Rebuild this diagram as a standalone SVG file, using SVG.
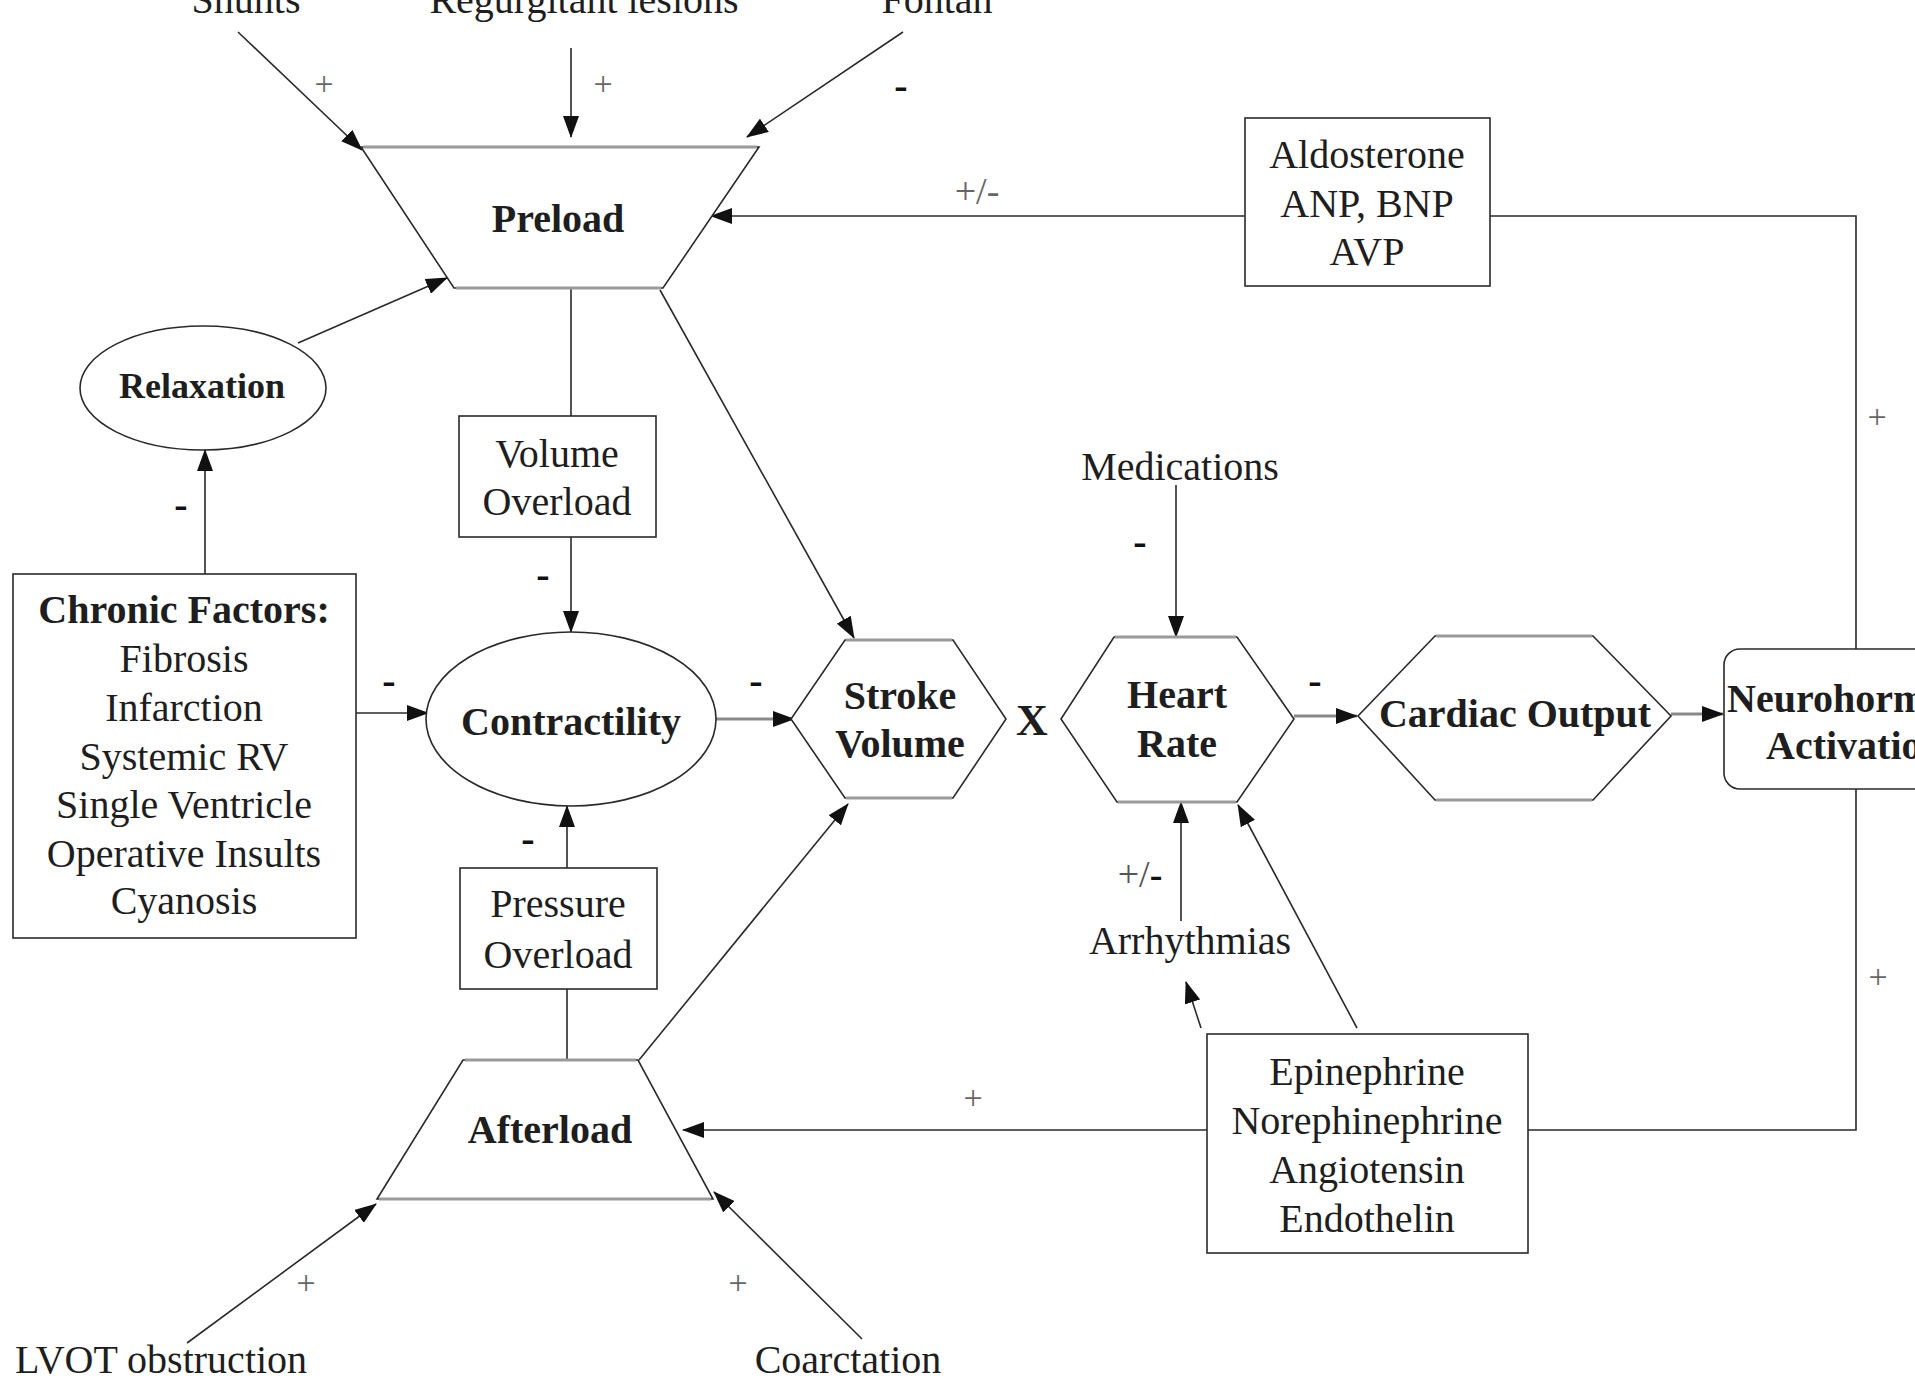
<svg xmlns="http://www.w3.org/2000/svg" width="1915" height="1382" viewBox="0 0 1915 1382">
<style>
  text { font-family: "Liberation Serif", "Times New Roman", serif; fill: #1e1e1e; }
  .t { font-size: 40px; text-anchor: middle; }
  .b { font-size: 40px; font-weight: bold; text-anchor: middle; }
  .shape { fill: #fff; stroke: #2a2a2a; stroke-width: 1.6; }
  .edge { stroke: #9a9a9a; stroke-width: 3; fill: none; }
  .ln { stroke: #2a2a2a; stroke-width: 1.6; fill: none; }
  .lg { stroke: #8a8a8a; stroke-width: 3; fill: none; }
  .arr { marker-end: url(#ah); }
  .plus { font-size: 34px; fill: #666; text-anchor: middle; }
  .minus { font-size: 40px; font-weight: bold; fill: #111; text-anchor: middle; }
</style>
<defs>
  <marker id="ah" markerUnits="userSpaceOnUse" markerWidth="22" markerHeight="16" refX="21" refY="8" orient="auto">
    <path d="M0,0 L22,8 L0,16 z" fill="#111"/>
  </marker>
</defs>
<rect width="1915" height="1382" fill="#fff"/>

<g id="connectors">
  <line class="ln arr" x1="238" y1="32" x2="362" y2="150"/>
  <line class="ln arr" x1="571" y1="48" x2="571" y2="137"/>
  <line class="ln arr" x1="903" y1="32" x2="747" y2="137"/>
  <line class="ln arr" x1="1245" y1="216" x2="711" y2="216"/>
  <polyline class="ln" points="1490,216 1856,216 1856,649"/>
  <line class="ln arr" x1="298" y1="343" x2="447" y2="278"/>
  <line class="ln arr" x1="205" y1="574" x2="205" y2="450"/>
  <line class="ln" x1="571" y1="288" x2="571" y2="416"/>
  <line class="ln arr" x1="571" y1="537" x2="571" y2="632"/>
  <line class="ln arr" x1="660" y1="290" x2="854" y2="638"/>
  <line class="ln arr" x1="356" y1="713" x2="428" y2="713"/>
  <line class="lg arr" x1="716" y1="719" x2="794" y2="719"/>
  <line class="ln arr" x1="1176" y1="485" x2="1176" y2="637"/>
  <line class="lg arr" x1="1294" y1="716" x2="1357" y2="716"/>
  <line class="lg arr" x1="1671" y1="714" x2="1723" y2="714"/>
  <polyline class="ln" points="1856,789 1856,1130 1528,1130"/>
  <line class="ln arr" x1="1207" y1="1130" x2="683" y2="1130"/>
  <line class="ln arr" x1="567" y1="868" x2="567" y2="806"/>
  <line class="ln" x1="567" y1="1060" x2="567" y2="989"/>
  <line class="ln arr" x1="639" y1="1060" x2="848" y2="804"/>
  <line class="ln arr" x1="187" y1="1343" x2="376" y2="1204"/>
  <line class="ln arr" x1="862" y1="1339" x2="714" y2="1192"/>
  <line class="ln arr" x1="1181" y1="921" x2="1181" y2="802"/>
  <line class="ln arr" x1="1201" y1="1028" x2="1186" y2="982"/>
  <line class="ln arr" x1="1357" y1="1028" x2="1238" y2="805"/>
</g>

<g id="labels">
  <text class="plus" x="324" y="95">+</text>
  <text class="plus" x="603" y="95">+</text>
  <text class="minus" x="901" y="99">-</text>
  <text class="plus" x="977" y="204" style="font-size:38px">+/-</text>
  <text class="plus" x="1877" y="428">+</text>
  <text class="minus" x="181" y="518">-</text>
  <text class="minus" x="543" y="588">-</text>
  <text class="minus" x="389" y="694">-</text>
  <text class="minus" x="756" y="694">-</text>
  <text class="minus" x="528" y="852">-</text>
  <text class="minus" x="1140" y="555">-</text>
  <text class="minus" x="1315" y="694">-</text>
  <text x="1140" y="887" style="font-size:38px;text-anchor:middle"><tspan fill="#555">+/</tspan><tspan font-weight="bold" fill="#111">-</tspan></text>
  <text class="plus" x="1878" y="988">+</text>
  <text class="plus" x="973" y="1109">+</text>
  <text class="plus" x="306" y="1294">+</text>
  <text class="plus" x="738" y="1294">+</text>
  <text x="1032" y="735" style="font-size:44px;font-weight:bold;text-anchor:middle">X</text>
</g>

<g id="shunts"><text class="t" x="246" y="13">Shunts</text></g>
<g id="regurgitant"><text class="t" x="584" y="13">Regurgitant lesions</text></g>
<g id="fontan"><text class="t" x="937" y="13">Fontan</text></g>

<g id="preload">
  <polygon class="shape" points="361,147 759,147 663,288 454,288"/>
  <line class="edge" x1="363" y1="147" x2="757" y2="147"/>
  <line class="edge" x1="456" y1="288" x2="661" y2="288"/>
  <text class="b" x="558" y="232">Preload</text>
</g>

<g id="aldosterone">
  <rect class="shape" x="1245" y="118" width="245" height="168"/>
  <text class="t" x="1367" y="168">Aldosterone</text>
  <text class="t" x="1367" y="217">ANP, BNP</text>
  <text class="t" x="1367" y="265">AVP</text>
</g>

<g id="relaxation">
  <ellipse class="shape" cx="203" cy="388" rx="123" ry="62"/>
  <text class="b" x="202" y="398" style="font-size:36px">Relaxation</text>
</g>

<g id="volume-overload">
  <rect class="shape" x="459" y="416" width="197" height="121"/>
  <text class="t" x="557" y="467">Volume</text>
  <text class="t" x="557" y="515">Overload</text>
</g>

<g id="medications"><text class="t" x="1180" y="480">Medications</text></g>

<g id="chronic-factors">
  <rect class="shape" x="13" y="574" width="343" height="364"/>
  <text class="b" x="184" y="623">Chronic Factors:</text>
  <text class="t" x="184" y="672">Fibrosis</text>
  <text class="t" x="184" y="721">Infarction</text>
  <text class="t" x="184" y="770">Systemic RV</text>
  <text class="t" x="184" y="818">Single Ventricle</text>
  <text class="t" x="184" y="867">Operative Insults</text>
  <text class="t" x="184" y="914">Cyanosis</text>
</g>

<g id="contractility">
  <ellipse class="shape" cx="571" cy="719" rx="145" ry="87"/>
  <text class="b" x="571" y="735">Contractility</text>
</g>

<g id="stroke-volume">
  <polygon class="shape" points="845,640 953,640 1006,719 953,798 845,798 791,719"/>
  <line class="edge" x1="846" y1="640" x2="952" y2="640"/>
  <line class="edge" x1="846" y1="798" x2="952" y2="798"/>
  <text class="b" x="900" y="709">Stroke</text>
  <text class="b" x="900" y="757">Volume</text>
</g>

<g id="heart-rate">
  <polygon class="shape" points="1114,637 1237,637 1294,719 1237,802 1117,802 1061,719"/>
  <line class="edge" x1="1115" y1="637" x2="1236" y2="637"/>
  <line class="edge" x1="1118" y1="802" x2="1236" y2="802"/>
  <text class="b" x="1177" y="708">Heart</text>
  <text class="b" x="1177" y="757">Rate</text>
</g>

<g id="cardiac-output">
  <polygon class="shape" points="1435,636 1593,636 1671,716 1593,800 1435,800 1358,716"/>
  <line class="edge" x1="1436" y1="636" x2="1592" y2="636"/>
  <line class="edge" x1="1436" y1="800" x2="1592" y2="800"/>
  <text class="b" x="1515" y="727">Cardiac Output</text>
</g>

<g id="neurohormonal-activation">
  <rect class="shape" x="1724" y="649" width="260" height="140" rx="16" ry="16"/>
  <text x="1727" y="712" style="font-size:40px;font-weight:bold">Neurohormonal</text>
  <text x="1766" y="759" style="font-size:40px;font-weight:bold">Activation</text>
</g>

<g id="pressure-overload">
  <rect class="shape" x="460" y="868" width="197" height="121"/>
  <text class="t" x="558" y="917">Pressure</text>
  <text class="t" x="558" y="968">Overload</text>
</g>

<g id="arrhythmias"><text class="t" x="1190" y="954">Arrhythmias</text></g>

<g id="epinephrine">
  <rect class="shape" x="1207" y="1034" width="321" height="219"/>
  <text class="t" x="1367" y="1085">Epinephrine</text>
  <text class="t" x="1367" y="1134">Norephinephrine</text>
  <text class="t" x="1367" y="1183">Angiotensin</text>
  <text class="t" x="1367" y="1232">Endothelin</text>
</g>

<g id="afterload">
  <polygon class="shape" points="463,1060 638,1060 713,1199 377,1199"/>
  <line class="edge" x1="465" y1="1060" x2="636" y2="1060"/>
  <line class="edge" x1="379" y1="1199" x2="711" y2="1199"/>
  <text class="b" x="550" y="1143">Afterload</text>
</g>

<g id="lvot"><text class="t" x="161" y="1373">LVOT obstruction</text></g>
<g id="coarctation"><text class="t" x="848" y="1373">Coarctation</text></g>
</svg>
